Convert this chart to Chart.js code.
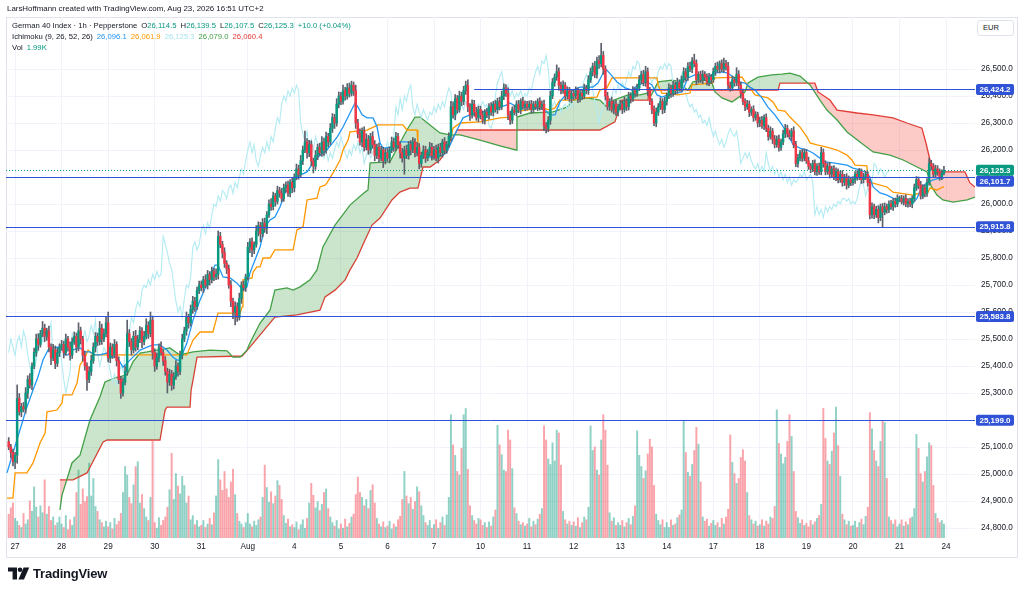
<!DOCTYPE html>
<html lang="en">
<head>
<meta charset="UTF-8">
<title>German 40 Index · 1h · Ichimoku</title>
<script src="https://cdn.jsdelivr.net/npm/chart.js"></script>
<style>
  body { margin: 0; background: #fff; font-family: 'Liberation Sans', Arial, sans-serif; color: #131722; }
  #wrap { position: relative; width: 1024px; height: 594px; overflow: hidden; }
  #chart { position: absolute; left: 0; top: 0; }
  #frame { position: absolute; left: 6px; top: 17px; width: 1012px; height: 541px; border: 1px solid #e0e3eb; box-sizing: border-box; }
  .txt { position: absolute; white-space: nowrap; }
  #credit { left: 7px; top: 4px; font-size: 7.9px; }
  .lg { left: 12px; font-size: 7.7px; line-height: 10px; }
  .lg .it { margin-left: 4px; }
  .g { color: #089981; }
  #eur { position: absolute; left: 977px; top: 20px; width: 37px; height: 16px; border: 1px solid #e0e3eb; border-radius: 3px; box-sizing: border-box; font-size: 7.6px; line-height: 14px; padding-left: 5px; background: #fff; }
  #logo { position: absolute; left: 8px; top: 566px; display: flex; align-items: center; }
  #logo span { font-size: 13px; font-weight: 700; margin-left: 3px; letter-spacing: -0.2px; }
</style>
</head>
<body>
<div id="wrap">
  <div id="frame"></div>
  <canvas id="chart" width="1024" height="594"></canvas>
  <div class="txt" id="credit">LarsHoffmann created with TradingView.com, Aug 23, 2026 16:51 UTC+2</div>
  <div class="txt lg" style="top:21px">German 40 Index · 1h · Pepperstone<span class="it">O<span class="g">26,114.5</span></span><span class="it">H<span class="g">26,139.5</span></span><span class="it">L<span class="g">26,107.5</span></span><span class="it">C<span class="g">26,125.3</span></span><span class="it g">+10.0 (+0.04%)</span></div>
  <div class="txt lg" style="top:32px">Ichimoku (9, 26, 52, 26)<span class="it" style="color:#2196f3">26,096.1</span><span class="it" style="color:#ff9800">26,061.9</span><span class="it" style="color:#a9e5ef">26,125.3</span><span class="it" style="color:#43a047">26,079.0</span><span class="it" style="color:#e53935">26,060.4</span></div>
  <div class="txt lg" style="top:43px">Vol<span class="it g">1.99K</span></div>
  <div id="eur">EUR</div>
  <div id="logo">
    <svg width="22" height="13" viewBox="0 0 22 13"><path d="M0 0.5h9v12H4.6V4.6H0z" fill="#131722"/><circle cx="12" cy="2.8" r="2.3" fill="#131722"/><path d="M15.6 0.5h5.6l-5.2 12h-5.6z" fill="#131722"/></svg>
    <span>TradingView</span>
  </div>
</div>

<script>
// ---- values ----
const dayLabels = ['27', '28', '29', '30', '31', 'Aug', '4', '5', '6', '7', '10', '11', '12', '13', '14', '17', '18', '19', '20', '21', '24'];
const dayTicks = [3, 25, 47, 69, 91, 113, 135, 157, 179, 201, 223, 245, 267, 289, 311, 333, 355, 377, 399, 421, 443];
const priceTicks = [24800, 24900, 25000, 25100, 25200, 25300, 25400, 25500, 25600, 25700, 25800, 25900, 26000, 26100, 26200, 26300, 26400, 26500];

// hourly closes, one row per session day
const firstOpen = 25120;
const closes = [
  25100, 25080, 25045,
  25070, 25280, 25230, 25250, 25240, 25300, 25350, 25330, 25400, 25450, 25500, 25480, 25520, 25540, 25510, 25530, 25470, 25430, 25460, 25410, 25450, 25470,
  25480, 25450, 25500, 25470, 25440, 25490, 25510, 25470, 25530, 25500, 25440, 25400, 25350, 25380, 25420, 25470, 25510, 25490, 25540, 25500, 25520, 25560,
  25430, 25470, 25440, 25480, 25420, 25350, 25300, 25340, 25380, 25520, 25490, 25460, 25510, 25470, 25500, 25530, 25490, 25510, 25550, 25520, 25570, 25450,
  25400, 25430, 25470, 25450, 25420, 25380, 25340, 25370, 25330, 25360, 25400, 25380, 25440, 25500, 25530, 25580, 25560, 25610, 25640, 25620, 25680, 25700,
  25690, 25720, 25700, 25740, 25720, 25750, 25730, 25740, 25880, 25850, 25820, 25780, 25760, 25700, 25640, 25600, 25620, 25580, 25650, 25700, 25690, 25730,
  25840, 25860, 25830, 25850, 25900, 25920, 25890, 25930, 25910, 25960, 26000, 25990, 26030, 26010, 26050, 26040, 26020, 26060, 26070, 26040, 26080, 26060,
  26100, 26130, 26110, 26160, 26200, 26230, 26190, 26220, 26160, 26140, 26180, 26210, 26190, 26230, 26200, 26250, 26230, 26280, 26320, 26300, 26370, 26400,
  26380, 26420, 26400, 26430, 26410, 26440, 26420, 26300, 26260, 26230, 26270, 26210, 26240, 26200, 26250, 26220, 26180, 26210, 26170, 26200, 26160, 26190,
  26170, 26200, 26230, 26210, 26250, 26220, 26190, 26170, 26200, 26180, 26220, 26200, 26230, 26190, 26210, 26150, 26180, 26200, 26170, 26190, 26210, 26180,
  26200, 26170, 26210, 26190, 26230, 26200, 26220, 26250, 26360, 26330, 26390, 26350, 26400, 26380, 26420, 26440, 26360, 26330, 26370, 26340, 26320, 26350,
  26330, 26310, 26340, 26330, 26360, 26340, 26370, 26350, 26380, 26360, 26400, 26430, 26410, 26330, 26310, 26350, 26340, 26370, 26350, 26380, 26360, 26370,
  26360, 26370, 26350, 26370, 26360, 26380, 26360, 26370, 26290, 26280, 26310, 26400, 26450, 26470, 26490, 26440, 26420, 26440, 26400, 26420, 26390, 26410,
  26400, 26420, 26390, 26410, 26400, 26430, 26420, 26460, 26490, 26510, 26480, 26530, 26520, 26550, 26500, 26400, 26360, 26380, 26350, 26370, 26340, 26360,
  26370, 26350, 26380, 26360, 26400, 26390, 26420, 26410, 26430, 26460, 26480, 26450, 26490, 26420, 26380, 26350, 26300, 26340, 26360, 26380, 26350, 26380,
  26400, 26430, 26410, 26440, 26420, 26450, 26430, 26460, 26490, 26470, 26510, 26500, 26530, 26520, 26460, 26480, 26460, 26480, 26470, 26450, 26470, 26460,
  26490, 26510, 26500, 26520, 26500, 26520, 26510, 26440, 26430, 26460, 26450, 26480, 26440, 26410, 26380, 26360, 26370, 26340, 26350, 26320, 26330, 26300,
  26310, 26290, 26320, 26280, 26250, 26270, 26240, 26220, 26240, 26210, 26230, 26260, 26280, 26260, 26250, 26270, 26220, 26150, 26170, 26190, 26170, 26190,
  26160, 26140, 26130, 26150, 26120, 26140, 26120, 26190, 26150, 26120, 26140, 26110, 26130, 26100, 26120, 26090, 26110, 26080, 26100, 26070, 26090, 26080,
  26090, 26110, 26100, 26120, 26090, 26100, 26110, 26080, 25960, 25990, 25960, 25980, 25950, 25990, 25970, 25990, 25980, 26000, 25990, 26010, 26000, 26020,
  26020, 26010, 26020, 26000, 26010, 26000, 26020, 26060, 26090, 26070, 26030, 26060, 26040, 26080, 26150, 26140, 26110, 26130, 26120, 26100, 26114.5, 26125.3
];

// wick length above / below the body, in points
const upWick = [
  15, 10, 12,
  10, 50, 18, 12, 15, 20, 14, 22, 12, 16, 18, 20, 12, 25, 15, 10, 18, 12, 20, 14, 16, 12,
  15, 12, 18, 10, 20, 14, 16, 12, 30, 14, 10, 15, 12, 18, 20, 16, 14, 12, 25, 15, 18, 20,
  40, 15, 12, 18, 10, 14, 12, 16, 20, 50, 15, 12, 18, 22, 14, 16, 12, 18, 25, 14, 30, 15,
  14, 18, 12, 20, 10, 15, 12, 18, 14, 16, 20, 12, 15, 18, 14, 20, 12, 16, 18, 14, 12, 15,
  15, 12, 18, 14, 10, 16, 12, 20, 20, 15, 12, 18, 10, 14, 16, 12, 18, 14, 20, 12, 15, 10,
  18, 12, 15, 10, 20, 14, 12, 16, 18, 12, 15, 20, 14, 10, 16, 12, 18, 14, 12, 15, 10, 16,
  12, 18, 14, 20, 15, 40, 12, 16, 14, 10, 18, 12, 15, 20, 14, 16, 12, 18, 15, 12, 20, 15,
  14, 20, 12, 16, 18, 15, 12, 20, 14, 18, 12, 16, 20, 14, 12, 18, 15, 12, 16, 14, 10, 15,
  16, 12, 18, 14, 15, 12, 10, 16, 14, 18, 12, 15, 16, 12, 18, 14, 12, 16, 14, 12, 18, 15,
  14, 18, 12, 15, 10, 16, 12, 14, 20, 18, 15, 12, 18, 14, 16, 15, 20, 12, 16, 14, 18, 12,
  12, 15, 10, 14, 12, 16, 10, 14, 12, 15, 18, 15, 12, 20, 14, 10, 16, 12, 14, 10, 15, 12,
  10, 12, 14, 10, 12, 10, 14, 12, 15, 12, 14, 18, 15, 12, 25, 14, 12, 16, 10, 14, 12, 10,
  12, 14, 10, 15, 12, 14, 10, 16, 14, 12, 18, 14, 20, 45, 15, 12, 14, 10, 16, 12, 14, 10,
  14, 12, 16, 10, 14, 12, 15, 10, 14, 16, 12, 15, 20, 14, 12, 10, 14, 16, 12, 14, 10, 15,
  12, 15, 10, 14, 12, 16, 10, 14, 15, 12, 14, 16, 12, 25, 14, 10, 12, 14, 10, 12, 14, 10,
  14, 12, 16, 10, 14, 20, 12, 15, 12, 14, 10, 25, 14, 12, 16, 10, 14, 12, 10, 14, 12, 10,
  12, 15, 10, 14, 12, 16, 10, 14, 12, 15, 10, 14, 15, 12, 14, 10, 16, 12, 14, 10, 12, 14,
  12, 14, 10, 12, 14, 10, 12, 20, 14, 10, 12, 14, 10, 12, 14, 10, 12, 14, 10, 12, 14, 10,
  12, 10, 14, 12, 10, 14, 12, 10, 12, 14, 10, 12, 14, 10, 12, 14, 10, 12, 14, 10, 12, 14,
  10, 12, 10, 14, 10, 12, 10, 14, 12, 10, 14, 12, 10, 14, 20, 12, 10, 14, 12, 10, 12, 14.2
];
const downWick = [
  10, 20, 15,
  25, 30, 12, 18, 10, 15, 20, 12, 18, 10, 14, 22, 10, 12, 20, 15, 18, 25, 10, 20, 12, 15,
  12, 20, 10, 15, 18, 12, 10, 20, 14, 18, 22, 15, 40, 12, 15, 10, 18, 14, 12, 20, 10, 12,
  15, 18, 12, 10, 20, 15, 20, 12, 10, 14, 18, 20, 12, 15, 10, 14, 22, 12, 10, 18, 12, 25,
  20, 12, 15, 10, 18, 14, 40, 12, 20, 15, 10, 18, 12, 14, 10, 16, 20, 12, 15, 18, 10, 12,
  12, 18, 10, 15, 20, 12, 14, 10, 18, 12, 20, 15, 18, 12, 20, 25, 48, 15, 10, 18, 12, 14,
  12, 20, 25, 14, 10, 18, 30, 12, 15, 20, 10, 14, 12, 18, 10, 15, 12, 10, 16, 12, 14, 18,
  15, 10, 18, 12, 14, 10, 20, 15, 18, 25, 12, 16, 10, 14, 20, 12, 18, 10, 15, 20, 12, 14,
  12, 10, 15, 12, 14, 10, 18, 20, 15, 12, 18, 14, 10, 16, 12, 14, 20, 12, 15, 10, 25, 12,
  12, 18, 10, 15, 12, 14, 20, 15, 60, 12, 14, 18, 10, 16, 12, 20, 14, 12, 16, 10, 12, 18,
  15, 10, 18, 12, 16, 14, 12, 10, 15, 12, 18, 14, 10, 16, 12, 14, 18, 20, 12, 15, 10, 16,
  15, 12, 14, 10, 16, 12, 14, 10, 15, 12, 10, 14, 12, 18, 15, 12, 10, 14, 12, 16, 10, 14,
  12, 10, 14, 12, 10, 14, 12, 10, 18, 17, 12, 15, 10, 14, 12, 18, 12, 10, 14, 12, 10, 14,
  14, 10, 15, 12, 14, 10, 12, 14, 10, 16, 12, 14, 18, 12, 20, 15, 12, 14, 10, 16, 12, 14,
  12, 15, 10, 14, 12, 16, 10, 14, 12, 10, 15, 12, 14, 18, 12, 15, 10, 14, 12, 10, 16, 12,
  14, 10, 15, 12, 14, 10, 12, 14, 10, 15, 12, 10, 14, 12, 18, 12, 10, 14, 12, 10, 12, 14,
  10, 14, 12, 15, 10, 12, 14, 16, 12, 10, 14, 12, 15, 18, 12, 14, 10, 16, 12, 14, 10, 15,
  14, 10, 15, 12, 14, 10, 16, 12, 10, 14, 12, 10, 14, 12, 10, 15, 12, 12, 14, 10, 12, 10,
  10, 12, 14, 10, 12, 14, 10, 12, 14, 12, 10, 14, 12, 10, 14, 12, 10, 14, 12, 15, 10, 12,
  10, 14, 12, 10, 14, 12, 10, 14, 15, 12, 14, 10, 20, 12, 55, 10, 14, 12, 10, 14, 12, 10,
  12, 10, 14, 10, 12, 10, 14, 12, 10, 14, 12, 10, 14, 12, 10, 14, 12, 10, 14, 12, 10, 7
];

// volume in thousands
const volumeK = [
  3.4, 4.3, 5.0,
  2.8, 2.4, 1.8, 1.5, 3.5, 2.0, 2.6, 5.3, 3.8, 7.3, 4.4, 3.0, 4.6, 3.6, 8.3, 3.4, 4.5, 2.5, 3.0, 1.8, 2.2, 3.0,
  2.0, 1.5, 3.2, 1.2, 2.6, 1.8, 3.0, 6.5, 9.7, 4.8, 7.0, 5.2, 5.9, 10.7, 6.0, 8.5, 4.5, 3.8, 2.6, 2.2, 1.6, 2.4,
  1.6, 2.2, 1.3, 2.8, 1.9, 2.4, 3.5, 6.5, 10.2, 9.0, 5.8, 4.9, 7.6, 10.2, 10.9, 5.0, 6.2, 4.2, 3.0, 2.5, 5.8, 13.8,
  2.2, 1.4, 2.9, 1.8, 2.5, 3.0, 4.4, 6.9, 12.1, 5.5, 9.2, 7.4, 6.3, 8.8, 7.5, 5.0, 6.0, 2.6, 3.2, 1.9, 2.5, 1.6,
  1.8, 2.5, 1.5, 2.0, 2.8, 1.9, 3.6, 6.0, 11.2, 8.3, 6.8, 9.5, 7.0, 5.8, 8.0, 9.8, 6.2, 3.5, 2.4, 2.0, 1.5, 2.2,
  3.5, 2.0, 1.6, 2.4, 1.8, 2.6, 3.0, 5.8, 10.4, 7.2, 5.1, 6.6, 4.9, 6.0, 8.2, 7.5, 5.5, 3.2, 2.1, 2.7, 1.6, 1.9,
  1.5, 2.3, 1.2, 1.9, 2.6, 1.4, 2.8, 5.0, 7.8, 6.1, 4.3, 5.2, 3.9, 4.8, 6.5, 7.0, 4.2, 3.0, 2.2, 1.7, 2.5, 1.3,
  2.0, 1.4, 2.7, 1.6, 2.1, 3.0, 3.4, 6.2, 8.7, 6.5, 5.8, 4.6, 5.5, 4.2, 6.8, 7.6, 5.0, 2.8, 2.0, 1.6, 2.3, 1.5,
  1.7, 2.4, 1.3, 2.0, 1.6, 2.6, 3.1, 5.5, 9.5, 6.0, 4.9, 5.8, 4.1, 5.2, 7.3, 6.6, 4.6, 3.2, 2.2, 1.8, 2.5, 1.4,
  1.9, 2.6, 1.4, 2.2, 3.0, 1.8, 3.3, 5.8, 17.6, 13.3, 11.8, 9.5, 9.0, 12.8, 17.6, 18.5, 9.8, 4.6, 3.2, 2.5, 2.0, 2.8,
  2.6, 1.8, 2.2, 1.5, 2.3, 1.7, 3.0, 4.0, 16.1, 13.3, 11.9, 9.7, 9.5, 15.4, 14.0, 9.9, 4.3, 3.5, 2.4, 1.9, 2.2, 1.7,
  2.0, 2.8, 1.6, 2.4, 1.9, 2.7, 3.4, 4.2, 16.0, 14.0, 11.3, 10.5, 13.6, 11.0, 15.4, 15.0, 10.4, 3.8, 2.6, 2.0, 2.4, 1.8,
  2.3, 1.7, 2.9, 1.5, 2.2, 3.0, 2.6, 4.4, 16.0, 12.5, 13.0, 9.7, 9.0, 14.0, 17.6, 15.4, 10.4, 3.6, 2.4, 2.9, 1.8, 2.2,
  1.8, 2.5, 1.6, 2.2, 2.8, 1.9, 3.1, 4.6, 15.3, 11.8, 10.2, 8.5, 9.6, 12.0, 14.1, 13.0, 7.5, 3.4, 2.5, 1.9, 2.6, 1.5,
  2.2, 1.5, 2.6, 1.8, 2.0, 2.9, 3.3, 4.0, 16.8, 12.2, 9.4, 8.8, 10.5, 12.5, 15.8, 13.4, 8.0, 3.0, 2.4, 2.7, 1.7, 2.1,
  2.5, 1.8, 2.2, 1.5, 2.8, 2.0, 3.0, 4.1, 14.7, 10.8, 9.2, 7.8, 8.5, 11.5, 12.6, 11.0, 6.5, 3.2, 2.6, 2.0, 2.4, 1.7,
  1.9, 2.6, 1.7, 2.4, 2.0, 3.0, 2.8, 4.5, 18.3, 13.5, 12.0, 10.6, 11.5, 13.8, 17.6, 14.5, 9.5, 3.8, 2.9, 2.1, 2.6, 1.8,
  2.1, 1.6, 2.5, 1.9, 2.3, 2.8, 3.2, 4.8, 18.5, 14.2, 11.0, 10.5, 12.4, 15.0, 18.7, 13.2, 8.8, 3.4, 2.6, 1.9, 2.4, 1.7,
  1.8, 2.4, 1.5, 2.2, 2.7, 1.9, 3.1, 4.4, 17.9, 15.6, 12.5, 11.0, 10.2, 13.8, 16.8, 16.5, 8.5, 3.0, 2.5, 2.0, 2.6, 1.6,
  2.0, 2.6, 1.7, 2.3, 1.9, 2.8, 3.0, 4.2, 14.8, 12.8, 9.2, 8.0, 9.5, 11.6, 13.6, 13.2, 7.5, 3.5, 2.8, 2.2, 2.5, 1.99
];

// Ichimoku lines as [bar index, price] vertices
const convLine = [
  [-0.8,25004],[2.0,25078],[5.3,25163],[8.6,25248],[11.5,25311],[13.8,25359],[16.2,25422],[18.6,25459],[20.5,25467],[23.3,25470],
  [25.2,25467],[26.6,25441],[28.0,25441],[29.9,25459],[33.7,25467],[36.1,25452],[38.4,25452],[40.8,25441],[43.1,25441],[46.5,25448],
  [48.8,25433],[51.2,25433],[54.0,25396],[58.7,25433],[62.1,25459],[65.4,25470],[68.2,25478],[71.5,25478],[74.8,25459],[77.6,25433],
  [79.5,25422],[80.9,25422],[84.2,25485],[87.1,25570],[90.4,25644],[95.1,25730],[97.5,25774],[98.9,25774],[101.3,25730],[104.6,25726],
  [107.9,25707],[110.7,25681],[112.6,25693],[114.0,25744],[116.4,25793],[118.8,25841],[121.1,25915],[123.5,25941],[125.8,25952],[128.2,25989],
  [130.6,26041],[132.9,26063],[135.3,26089],[137.7,26107],[141.0,26119],[143.8,26152],[146.2,26174],[148.5,26189],[150.4,26200],[155.2,26248],
  [158.0,26285],[161.3,26337],[163.7,26374],[165.1,26359],[167.0,26330],[169.4,26319],[172.2,26319],[174.1,26285],[175.5,26226],[176.9,26207],
  [181.6,26211],[184.9,26230],[188.2,26230],[190.6,26226],[194.4,26174],[202.4,26174],[205.2,26181],[207.1,26193],[211.9,26274],[214.7,26319],
  [218.0,26330],[221.3,26337],[224.1,26341],[227.5,26348],[231.2,26356],[235.5,26367],[236.9,26374],[240.2,26359],[245.0,26359],[249.7,26356],
  [253.5,26348],[255.8,26330],[258.2,26330],[260.5,26378],[263.9,26411],[266.7,26422],[270.0,26433],[276.1,26433],[278.5,26448],[280.9,26485],
  [282.7,26496],[285.6,26470],[287.5,26452],[291.3,26430],[294.6,26422],[297.4,26441],[301.7,26452],[304.0,26441],[306.4,26404],[308.7,26396],
  [311.6,26404],[318.2,26415],[319.6,26441],[321.0,26467],[324.3,26478],[327.6,26478],[330.5,26470],[333.8,26485],[337.1,26489],[339.9,26485],
  [342.3,26470],[344.6,26452],[348.0,26448],[350.3,26433],[352.7,26422],[356.0,26393],[358.8,26359],[362.1,26330],[365.5,26293],[369.2,26244],
  [370.7,26219],[374.0,26207],[377.3,26200],[380.1,26189],[383.4,26170],[385.8,26156],[389.6,26152],[396.2,26144],[399.0,26133],[402.3,26126],
  [405.6,26115],[407.0,26100],[408.5,26063],[411.8,26041],[415.1,26033],[417.9,26022],[422.7,26007],[427.4,26004],[429.3,26022],[431.6,26063],
  [434.5,26081],[436.8,26089],[440.1,26096],[442,26096.1]
];
const baseLine = [
  [-0.8,24911],[2.0,24911],[3.0,25004],[8.6,25004],[11.5,25041],[14.8,25115],[17.2,25152],[18.1,25230],[22.8,25237],[25.2,25263],
  [25.7,25293],[29.9,25293],[32.3,25337],[33.7,25404],[36.1,25433],[37.5,25459],[39.8,25441],[84.2,25441],[87.1,25496],[90.4,25526],
  [96.5,25526],[98.9,25596],[109.4,25596],[110.3,25619],[110.7,25719],[115.0,25726],[115.5,25748],[117.3,25767],[118.8,25767],[120.2,25800],
  [123.5,25800],[125.8,25830],[134.4,25830],[136.2,25904],[139.1,25915],[141.0,26015],[145.7,26022],[147.1,26063],[149.5,26070],[150.4,26078],
  [153.3,26115],[156.6,26163],[158.0,26200],[160.4,26237],[161.3,26267],[169.4,26274],[174.5,26293],[186.3,26293],[188.2,26274],[193.0,26274],
  [193.4,26211],[194.4,26189],[199.1,26181],[203.8,26174],[207.6,26200],[210.0,26281],[213.3,26300],[222.7,26304],[232.2,26319],[236.9,26322],
  [238.4,26341],[245.0,26348],[251.1,26359],[255.8,26348],[258.2,26356],[260.5,26385],[266.7,26385],[271.4,26393],[278.0,26396],[279.4,26422],
  [282.7,26430],[285.1,26467],[306.4,26467],[306.9,26441],[308.7,26411],[316.3,26404],[322.0,26411],[322.9,26441],[332.4,26448],[333.8,26467],
  [346.6,26470],[348.0,26452],[350.3,26430],[352.7,26404],[358.8,26393],[361.2,26378],[363.6,26348],[366.9,26344],[369.2,26322],[374.0,26285],
  [377.3,26248],[378.7,26226],[382.0,26219],[386.7,26211],[391.5,26200],[396.2,26181],[398.5,26163],[399.9,26144],[405.6,26141],[406.1,26081],
  [408.0,26078],[415.1,26063],[417.9,26044],[427.4,26033],[430.7,26041],[432.1,26052],[434.5,26044],[435.4,26059],[438.7,26052],[441.5,26063],
  [442,26061.9]
];
const spanA = [
  [24.2,24867],[25.2,24922],[29.9,25041],[33.7,25070],[38.4,25200],[43.1,25285],[45.5,25341],[50.2,25356],[55.9,25367],[58.7,25415],
  [62.1,25448],[65.4,25452],[70.1,25459],[76.2,25467],[80.9,25441],[87.1,25452],[95.1,25459],[103.2,25456],[106.0,25433],[109.4,25433],
  [112.6,25459],[114.0,25485],[118.8,25559],[123.5,25607],[125.8,25681],[131.5,25689],[134.4,25681],[137.7,25693],[142.4,25719],[145.7,25756],
  [148.5,25841],[154.2,25922],[161.3,25996],[168.4,26044],[169.8,26052],[170.8,26152],[180.2,26156],[184.9,26226],[188.2,26274],[192.0,26322],
  [194.4,26322],[199.1,26293],[203.8,26263],[208.6,26256],[213.3,26256],[222.7,26237],[232.2,26215],[239.8,26200],[240.2,26322],[246.4,26337],
  [257.2,26341],[263.9,26359],[266.7,26385],[273.3,26393],[279.4,26385],[282.7,26359],[286.0,26385],[289.8,26396],[292.7,26404],[298.4,26404],
  [302.1,26411],[303.5,26400],[306.9,26452],[313.5,26459],[318.2,26452],[319.6,26430],[321.0,26422],[323.4,26452],[329.1,26459],[332.4,26448],
  [333.8,26415],[337.1,26393],[341.8,26378],[344.6,26393],[348.0,26415],[349.4,26448],[354.1,26470],[360.7,26478],[365.5,26481],[369.2,26485],
  [374.0,26474],[378.7,26441],[383.4,26385],[386.7,26348],[391.5,26311],[396.2,26267],[402.3,26230],[408.5,26193],[416.5,26181],[422.7,26163],
  [429.3,26137],[434.0,26119],[435.9,26067],[438.7,26033],[441.5,26015],[446.3,26007],[453.0,26015],[456.7,26026],[468,26079]
];
const spanB = [
  [24.2,24978],[30.4,24978],[37.0,25004],[44.6,25119],[46.5,25126],[71.5,25126],[73.9,25237],[74.8,25248],[85.7,25248],[86.2,25311],
  [87.1,25348],[89.0,25433],[110.3,25437],[114.0,25470],[118.8,25515],[125.8,25581],[136.2,25589],[147.1,25607],[149.5,25656],[154.2,25681],
  [159.0,25719],[161.3,25756],[164.6,25800],[168.4,25867],[171.7,25922],[175.5,25948],[181.1,26015],[184.9,26044],[189.6,26059],[193.4,26059],
  [195.8,26137],[199.1,26137],[203.8,26163],[207.1,26200],[209.5,26237],[211.9,26274],[279.4,26274],[286.5,26304],[289.8,26385],[302.1,26385],
  [302.6,26422],[363.6,26422],[364.5,26448],[381.0,26448],[382.5,26415],[388.1,26385],[391.5,26348],[400.9,26337],[408.5,26330],[417.9,26319],
  [424.5,26300],[431.6,26281],[433.5,26226],[435.4,26163],[436.8,26119],[451.9,26119],[454.3,26078],[456.7,26063],[468,26060.4]
];

// horizontal levels drawn on the chart, and the bar each one starts at (null = full width)
const levels = [26424.2, 26101.7, 25915.8, 25583.8, 25199.0];
const levelFrom = [220, null, null, null, null];
const lastPrice = 26125.3;

// ---- build the series ----
const GREEN = '#089981', RED = '#f23645', LEVEL = '#2f52d6';
const opens = closes.map((c, i) => i ? closes[i - 1] : firstOpen);
const rising = closes.map((c, i) => c >= opens[i]);
const bodies = closes.map((c, i) => ({ x: i, y: [opens[i], c] }));
const wicks = closes.map((c, i) => ({ x: i, y: [Math.min(opens[i], c) - downWick[i], Math.max(opens[i], c) + upWick[i]] }));
const volumes = volumeK.map((v, i) => ({ x: i, y: v }));
const lagging = closes.slice(26).map((c, i) => ({ x: i, y: c }));  // close shifted back 26 bars
const toPts = arr => arr.map(([x, y]) => ({ x, y }));

const fmt = v => v.toLocaleString('en-US', { minimumFractionDigits: 1, maximumFractionDigits: 1 });
const FONT = "'Liberation Sans', Arial, sans-serif";

const levelPlugin = {
  id: 'levelPlugin',
  afterDatasetsDraw(chart) {
    const { ctx, chartArea: a, scales: { x, y } } = chart;
    ctx.save();
    ctx.beginPath();
    ctx.rect(a.left, a.top, a.right - a.left, a.bottom - a.top);
    ctx.clip();
    ctx.lineWidth = 1;
    ctx.strokeStyle = LEVEL;
    levels.forEach((v, k) => {
      const py = Math.round(y.getPixelForValue(v)) + 0.5;
      const px = levelFrom[k] === null ? a.left : x.getPixelForValue(levelFrom[k]);
      ctx.beginPath();
      ctx.moveTo(px, py);
      ctx.lineTo(a.right, py);
      ctx.stroke();
    });
    const ly = Math.round(y.getPixelForValue(lastPrice)) + 0.5;
    ctx.strokeStyle = GREEN;
    ctx.setLineDash([1, 2]);
    ctx.beginPath();
    ctx.moveTo(a.left, ly);
    ctx.lineTo(a.right, ly);
    ctx.stroke();
    ctx.restore();
  },
  afterDraw(chart) {
    const { ctx, chartArea: a, scales: { y } } = chart;
    const h = 11, w = 38, left = a.right + 1;
    const lastY = y.getPixelForValue(lastPrice);
    const tags = levels.map(v => {
      let py = y.getPixelForValue(v);
      if (Math.abs(py - lastY) < h) py = lastY + (py >= lastY ? h : -h);
      return { v, py, bg: LEVEL };
    });
    tags.push({ v: lastPrice, py: lastY, bg: GREEN });
    ctx.save();
    ctx.font = 'bold 8px ' + FONT;
    ctx.textAlign = 'center';
    ctx.textBaseline = 'middle';
    tags.forEach(t => {
      ctx.fillStyle = t.bg;
      ctx.beginPath();
      ctx.roundRect(left, t.py - h / 2, w, h, 2);
      ctx.fill();
      ctx.fillStyle = '#fff';
      ctx.fillText(fmt(t.v), left + w / 2, t.py + 0.5);
    });
    ctx.restore();
  }
};

const lineStyle = { type: 'line', pointRadius: 0, borderWidth: 1.3, tension: 0, fill: false, yAxisID: 'y' };

new Chart(document.getElementById('chart'), {
  type: 'bar',
  data: {
    datasets: [
      { ...lineStyle, label: 'Conversion Line', data: toPts(convLine), borderColor: '#2196f3', order: 5 },
      { ...lineStyle, label: 'Base Line', data: toPts(baseLine), borderColor: '#ff9800', order: 6 },
      { ...lineStyle, label: 'Lagging Span', data: lagging, borderColor: '#b2ebf2', borderWidth: 1.1, order: 7 },
      { ...lineStyle, label: 'Leading Span A', data: toPts(spanA), borderColor: '#43a047', order: 8,
        fill: { target: 4, above: 'rgba(67, 160, 71, 0.28)', below: 'rgba(244, 67, 54, 0.28)' } },
      { ...lineStyle, label: 'Leading Span B', data: toPts(spanB), borderColor: '#e53935', order: 9 },
      { label: 'Wicks', data: wicks, backgroundColor: '#5d606b', barThickness: 1, grouped: false, yAxisID: 'y', order: 4 },
      { label: 'Bodies', data: bodies, backgroundColor: rising.map(r => r ? GREEN : RED), barThickness: 1.8, minBarLength: 1, grouped: false, yAxisID: 'y', order: 3 },
      { label: 'Volume', data: volumes, backgroundColor: rising.map(r => r ? 'rgba(8, 153, 129, 0.45)' : 'rgba(242, 54, 69, 0.45)'), barThickness: 1.3, grouped: false, yAxisID: 'yv', order: 20 }
    ]
  },
  options: {
    responsive: false,
    animation: false,
    layout: { padding: { left: 6, top: 17, right: 0, bottom: 36 } },
    plugins: { legend: { display: false }, tooltip: { enabled: false } },
    scales: {
      x: {
        type: 'linear', min: -1.28, max: 456.68, offset: false,
        afterBuildTicks: s => { s.ticks = dayTicks.map(v => ({ value: v })); },
        afterFit: s => { s.height = 20; },
        ticks: { autoSkip: false, maxRotation: 0, padding: 4, color: '#131722', font: { family: FONT, size: 8.2 }, callback: (v, k) => dayLabels[k] },
        grid: { color: '#f0f3fa', drawTicks: false, offset: false },
        border: { display: false }
      },
      y: {
        position: 'right', min: 24763, max: 26692.6,
        afterBuildTicks: s => { s.ticks = priceTicks.map(v => ({ value: v })); },
        afterFit: s => { s.width = 49; },
        ticks: { padding: 6, color: '#131722', font: { family: FONT, size: 8.2 }, callback: v => fmt(v) },
        grid: { color: '#f0f3fa', drawTicks: false },
        border: { display: false }
      },
      yv: { display: false, min: 0, max: 74.4 }
    }
  },
  plugins: [levelPlugin]
});
</script>
</body>
</html>
